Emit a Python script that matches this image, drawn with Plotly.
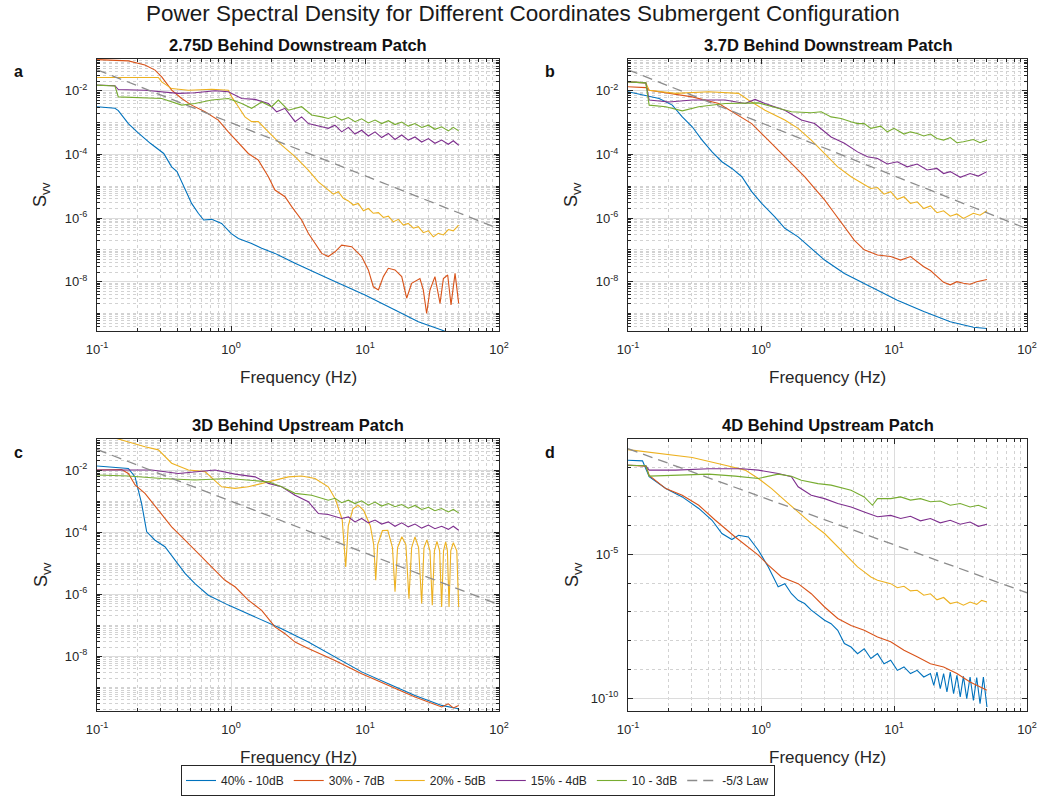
import plotly.graph_objects as go

# Readings: pairs of (log10 frequency [Hz], log10 S_vv)
# ---- panel a : 2.75D Behind Downstream Patch
a_40 = [(-1.0,-2.5),(-0.866,-2.55),(-0.841,-2.62),(-0.801,-2.82),(-0.766,-3.03),(-0.701,-3.29),(-0.602,-3.65),(-0.502,-3.97),(-0.443,-4.39),(-0.403,-4.54),(-0.343,-5.12),(-0.294,-5.54),(-0.244,-5.85),(-0.204,-6.06),(-0.144,-6.04),(-0.070,-6.17),(0.0,-6.48),(0.055,-6.64),(0.154,-6.8),(0.229,-6.95),(0.328,-7.11),(0.478,-7.42),(0.726,-7.9),(1.0,-8.42),(1.224,-8.89),(1.398,-9.26),(1.572,-9.52),(1.699,-9.73)]
a_30 = [(-1.0,-1.02),(-0.766,-1.06),(-0.642,-1.19),(-0.567,-1.35),(-0.517,-1.56),(-0.443,-1.98),(-0.368,-2.24),(-0.294,-2.45),(-0.194,-2.66),(-0.095,-2.92),(-0.020,-3.29),(0.055,-3.65),(0.129,-3.97),(0.204,-4.18),(0.279,-4.7),(0.328,-5.12),(0.403,-5.33),(0.453,-5.64),(0.527,-6.06),(0.577,-6.48),(0.627,-6.8),(0.677,-7.11),(0.726,-7.21),(0.776,-7.06),(0.826,-6.85),(0.900,-6.9),(0.975,-7.21),(1.025,-7.63),(1.062,-8.16),(1.100,-8.26),(1.137,-7.84),(1.174,-7.58),(1.224,-7.63),(1.274,-7.84),(1.311,-8.52),(1.348,-8.05),(1.410,-7.9),(1.435,-8.26),(1.460,-9.0),(1.485,-8.26),(1.522,-7.84),(1.560,-8.68),(1.585,-7.9),(1.617,-7.79),(1.642,-8.73),(1.672,-7.74),(1.699,-8.68)]
a_20 = [(-1.0,-1.58),(-0.542,-1.58),(-0.517,-1.72),(-0.443,-1.93),(-0.318,-1.98),(-0.144,-1.95),(-0.020,-1.98),(0.005,-2.19),(0.055,-2.5),(0.104,-2.82),(0.154,-2.97),(0.204,-2.97),(0.279,-3.29),(0.378,-3.71),(0.478,-4.07),(0.577,-4.49),(0.652,-4.86),(0.726,-5.12),(0.764,-5.25),(0.801,-5.17),(0.838,-5.38),(0.876,-5.46),(0.913,-5.59),(0.950,-5.54),(0.988,-5.77),(1.025,-5.7),(1.062,-5.85),(1.100,-5.83),(1.137,-5.98),(1.174,-5.94),(1.211,-6.12),(1.249,-6.04),(1.286,-6.22),(1.323,-6.17),(1.361,-6.32),(1.398,-6.27),(1.435,-6.46),(1.473,-6.4),(1.510,-6.59),(1.547,-6.48),(1.585,-6.53),(1.622,-6.36),(1.659,-6.4),(1.699,-6.22)]
a_15 = [(-1.0,-1.82),(-0.866,-1.84),(-0.841,-1.96),(-0.642,-1.98),(-0.393,-2.08),(-0.269,-2.06),(-0.119,-2.0),(-0.020,-2.03),(0.080,-2.24),(0.179,-2.27),(0.279,-2.4),(0.341,-2.66),(0.403,-2.55),(0.478,-2.97),(0.527,-2.82),(0.577,-3.03),(0.677,-3.13),(0.726,-3.18),(0.776,-3.08),(0.826,-3.29),(0.876,-3.15),(0.925,-3.36),(0.975,-3.24),(1.025,-3.42),(1.075,-3.29),(1.124,-3.47),(1.174,-3.34),(1.224,-3.53),(1.274,-3.39),(1.323,-3.55),(1.373,-3.45),(1.423,-3.61),(1.473,-3.5),(1.522,-3.65),(1.572,-3.55),(1.622,-3.68),(1.659,-3.57),(1.699,-3.71)]
a_10 = [(-1.0,-1.82),(-0.866,-1.85),(-0.841,-2.19),(-0.517,-2.24),(-0.368,-2.45),(-0.269,-2.4),(-0.144,-2.29),(-0.020,-2.24),(0.080,-2.4),(0.154,-2.55),(0.229,-2.35),(0.303,-2.5),(0.353,-2.29),(0.428,-2.61),(0.527,-2.5),(0.602,-2.76),(0.677,-2.82),(0.726,-2.87),(0.776,-2.8),(0.826,-2.92),(0.876,-2.84),(0.925,-2.97),(0.975,-2.88),(1.025,-3.01),(1.075,-2.92),(1.124,-3.03),(1.174,-2.94),(1.224,-3.06),(1.274,-2.98),(1.323,-3.11),(1.373,-3.03),(1.423,-3.15),(1.473,-3.08),(1.522,-3.21),(1.572,-3.13),(1.622,-3.26),(1.659,-3.15),(1.699,-3.26)]

# ---- panel b : 3.7D Behind Downstream Patch
b_40 = [(-1.0,-2.03),(-0.866,-2.14),(-0.766,-2.24),(-0.667,-2.45),(-0.592,-2.82),(-0.517,-3.13),(-0.443,-3.55),(-0.368,-3.92),(-0.294,-4.23),(-0.219,-4.44),(-0.144,-4.7),(-0.070,-5.17),(0.005,-5.54),(0.104,-5.96),(0.179,-6.32),(0.279,-6.59),(0.378,-6.95),(0.478,-7.32),(0.627,-7.74),(0.726,-7.95),(0.876,-8.26),(1.025,-8.58),(1.224,-8.94),(1.423,-9.26),(1.597,-9.43),(1.699,-9.47)]
b_30 = [(-1.0,-1.87),(-0.866,-1.9),(-0.841,-1.98),(-0.692,-2.08),(-0.517,-2.19),(-0.318,-2.4),(-0.194,-2.71),(-0.070,-3.03),(0.030,-3.45),(0.129,-3.86),(0.229,-4.28),(0.328,-4.7),(0.403,-5.07),(0.478,-5.43),(0.552,-5.85),(0.627,-6.27),(0.701,-6.69),(0.776,-7.0),(0.876,-7.16),(0.975,-7.21),(1.050,-7.32),(1.124,-7.21),(1.224,-7.53),(1.274,-7.65),(1.323,-7.84),(1.373,-8.02),(1.423,-8.1),(1.473,-8.0),(1.522,-8.05),(1.572,-8.08),(1.622,-8.0),(1.699,-7.93)]
b_20 = [(-1.0,-1.72),(-0.866,-1.75),(-0.841,-1.98),(-0.642,-2.08),(-0.393,-2.03),(-0.169,-2.08),(-0.095,-2.29),(0.030,-2.61),(0.179,-2.92),(0.279,-3.18),(0.378,-3.55),(0.478,-3.97),(0.577,-4.39),(0.677,-4.7),(0.776,-4.96),(0.826,-5.07),(0.876,-5.04),(0.925,-5.25),(0.975,-5.17),(1.025,-5.41),(1.075,-5.33),(1.124,-5.54),(1.174,-5.49),(1.224,-5.7),(1.274,-5.62),(1.323,-5.83),(1.373,-5.77),(1.423,-5.94),(1.473,-5.87),(1.522,-6.01),(1.597,-5.85),(1.647,-5.91),(1.699,-5.77)]
b_15 = [(-1.0,-1.72),(-0.866,-1.75),(-0.841,-2.29),(-0.692,-2.35),(-0.517,-2.29),(-0.269,-2.29),(-0.119,-2.4),(-0.045,-2.27),(0.030,-2.4),(0.179,-2.61),(0.303,-2.92),(0.403,-3.03),(0.527,-3.45),(0.627,-3.65),(0.726,-3.92),(0.801,-4.07),(0.876,-4.13),(0.950,-4.3),(1.025,-4.23),(1.100,-4.39),(1.174,-4.3),(1.249,-4.49),(1.323,-4.44),(1.373,-4.6),(1.423,-4.54),(1.498,-4.72),(1.572,-4.6),(1.634,-4.68),(1.699,-4.54)]
b_10 = [(-1.0,-1.72),(-0.866,-1.75),(-0.841,-2.45),(-0.716,-2.5),(-0.592,-2.63),(-0.468,-2.5),(-0.269,-2.4),(-0.020,-2.38),(0.129,-2.55),(0.229,-2.66),(0.378,-2.69),(0.453,-2.66),(0.527,-2.82),(0.602,-2.87),(0.677,-2.97),(0.726,-3.03),(0.776,-3.03),(0.826,-3.18),(0.900,-3.11),(0.950,-3.29),(1.0,-3.18),(1.075,-3.36),(1.124,-3.29),(1.174,-3.34),(1.224,-3.42),(1.274,-3.36),(1.323,-3.5),(1.373,-3.55),(1.423,-3.47),(1.473,-3.63),(1.522,-3.6),(1.597,-3.53),(1.647,-3.63),(1.699,-3.55)]

# ---- panel c : 3D Behind Upstream Patch
c_40 = [(-1.0,-1.87),(-0.866,-1.91),(-0.766,-1.95),(-0.716,-2.22),(-0.667,-3.08),(-0.629,-3.99),(-0.567,-4.26),(-0.493,-4.47),(-0.418,-4.9),(-0.343,-5.33),(-0.269,-5.66),(-0.169,-6.03),(-0.020,-6.35),(0.179,-6.73),(0.378,-7.11),(0.577,-7.54),(0.776,-8.02),(0.975,-8.5),(1.174,-8.88),(1.373,-9.26),(1.572,-9.58),(1.699,-9.69)]
c_30 = [(-1.0,-2.0),(-0.816,-1.98),(-0.766,-2.11),(-0.716,-2.48),(-0.642,-2.75),(-0.542,-3.29),(-0.443,-3.83),(-0.343,-4.26),(-0.244,-4.69),(-0.144,-5.12),(-0.045,-5.55),(0.030,-5.76),(0.129,-6.19),(0.229,-6.52),(0.328,-7.05),(0.403,-7.27),(0.478,-7.54),(0.577,-7.75),(0.776,-8.13),(0.975,-8.56),(1.174,-8.94),(1.373,-9.31),(1.572,-9.63),(1.622,-9.53),(1.659,-9.66),(1.699,-9.58)]
c_20 = [(-1.0,-0.8),(-0.841,-1.01),(-0.642,-1.25),(-0.542,-1.35),(-0.443,-1.78),(-0.318,-2.0),(-0.194,-2.05),(-0.070,-2.54),(0.030,-2.59),(0.129,-2.54),(0.229,-2.43),(0.328,-2.32),(0.428,-2.22),(0.527,-2.19),(0.627,-2.27),(0.726,-2.54),(0.780,-2.95),(0.830,-3.6),(0.856,-5.12),(0.875,-3.8),(0.910,-3.25),(0.950,-3.13),(0.990,-3.3),(1.040,-3.8),(1.065,-4.4),(1.080,-5.55),(1.095,-4.4),(1.130,-3.95),(1.170,-3.94),(1.205,-4.5),(1.224,-5.92),(1.243,-4.5),(1.275,-4.15),(1.305,-4.4),(1.328,-6.14),(1.348,-4.5),(1.373,-4.15),(1.400,-4.5),(1.423,-6.3),(1.440,-4.5),(1.462,-4.25),(1.485,-4.6),(1.502,-6.35),(1.518,-4.6),(1.537,-4.3),(1.557,-4.6),(1.572,-6.41),(1.586,-4.6),(1.602,-4.31),(1.615,-4.6),(1.627,-6.41),(1.640,-4.6),(1.659,-4.34),(1.685,-4.6),(1.699,-6.41)]
c_15 = [(-1.0,-2.0),(-0.766,-2.0),(-0.592,-2.0),(-0.393,-2.11),(-0.269,-2.05),(-0.119,-2.0),(0.030,-2.13),(0.179,-2.22),(0.279,-2.43),(0.378,-2.54),(0.478,-2.81),(0.577,-3.02),(0.652,-3.4),(0.726,-3.43),(0.826,-3.56),(0.876,-3.51),(0.925,-3.67),(0.975,-3.56),(1.025,-3.7),(1.075,-3.61),(1.124,-3.74),(1.174,-3.67),(1.224,-3.81),(1.274,-3.7),(1.323,-3.83),(1.373,-3.74),(1.423,-3.87),(1.473,-3.77),(1.522,-3.89),(1.572,-3.81),(1.622,-3.91),(1.659,-3.81),(1.699,-3.94)]
c_10 = [(-1.0,-2.16),(-0.766,-2.19),(-0.517,-2.27),(-0.269,-2.32),(-0.020,-2.27),(0.129,-2.32),(0.279,-2.38),(0.378,-2.54),(0.478,-2.75),(0.602,-2.81),(0.726,-2.97),(0.776,-2.91),(0.826,-3.05),(0.876,-2.97),(0.925,-3.08),(0.975,-2.99),(1.025,-3.13),(1.075,-3.03),(1.124,-3.16),(1.174,-3.08),(1.224,-3.18),(1.274,-3.11),(1.323,-3.23),(1.373,-3.14),(1.423,-3.27),(1.473,-3.2),(1.522,-3.31),(1.572,-3.24),(1.622,-3.35),(1.659,-3.27),(1.699,-3.38)]

# ---- panel d : 4D Behind Upstream Patch
d_40 = [(-1.0,-1.74),(-0.891,-1.76),(-0.841,-2.31),(-0.716,-2.72),(-0.592,-3.01),(-0.468,-3.41),(-0.368,-3.82),(-0.294,-4.28),(-0.219,-4.49),(-0.169,-4.34),(-0.095,-4.4),(-0.020,-4.86),(0.055,-5.44),(0.129,-6.13),(0.179,-6.02),(0.229,-6.37),(0.279,-6.6),(0.328,-6.71),(0.378,-6.94),(0.478,-7.29),(0.527,-7.41),(0.577,-7.64),(0.627,-8.1),(0.677,-8.22),(0.726,-8.45),(0.776,-8.28),(0.826,-8.62),(0.876,-8.45),(0.925,-8.8),(0.975,-8.68),(1.025,-9.03),(1.075,-8.91),(1.124,-9.14),(1.174,-9.03),(1.224,-9.26),(1.274,-9.14),(1.299,-9.55),(1.323,-9.09),(1.348,-9.66),(1.373,-9.14),(1.398,-9.78),(1.423,-9.09),(1.448,-9.84),(1.473,-9.2),(1.498,-9.95),(1.522,-9.24),(1.547,-10.01),(1.572,-9.26),(1.597,-10.07),(1.622,-9.28),(1.647,-10.19),(1.672,-9.26),(1.699,-10.3)]
d_30 = [(-1.0,-1.91),(-0.866,-1.94),(-0.841,-2.26),(-0.716,-2.72),(-0.592,-2.95),(-0.468,-3.3),(-0.343,-3.82),(-0.194,-4.4),(-0.020,-5.03),(0.055,-5.38),(0.154,-5.79),(0.279,-6.02),(0.378,-6.37),(0.478,-6.83),(0.577,-7.23),(0.677,-7.47),(0.776,-7.64),(0.876,-7.87),(0.975,-8.04),(1.075,-8.33),(1.174,-8.56),(1.274,-8.8),(1.373,-8.91),(1.473,-9.14),(1.572,-9.43),(1.647,-9.61),(1.699,-9.72)]
d_20 = [(-1.0,-1.37),(-0.766,-1.5),(-0.517,-1.64),(-0.269,-1.91),(-0.119,-2.08),(-0.020,-2.37),(0.080,-2.72),(0.179,-3.13),(0.279,-3.53),(0.378,-3.93),(0.478,-4.28),(0.577,-4.75),(0.677,-5.21),(0.726,-5.44),(0.776,-5.61),(0.826,-5.79),(0.876,-5.9),(0.925,-5.97),(0.975,-6.02),(1.025,-6.16),(1.075,-6.11),(1.124,-6.27),(1.174,-6.25),(1.224,-6.42),(1.274,-6.37),(1.323,-6.58),(1.373,-6.5),(1.423,-6.71),(1.473,-6.66),(1.522,-6.77),(1.572,-6.66),(1.622,-6.74),(1.659,-6.6),(1.699,-6.66)]
d_15 = [(-1.0,-1.91),(-0.866,-1.93),(-0.841,-2.08),(-0.642,-2.08),(-0.393,-2.03),(-0.144,-2.03),(-0.020,-2.08),(0.129,-2.2),(0.229,-2.31),(0.279,-2.66),(0.378,-2.95),(0.478,-3.07),(0.577,-3.24),(0.677,-3.36),(0.776,-3.53),(0.876,-3.7),(0.975,-3.65),(1.050,-3.76),(1.124,-3.68),(1.199,-3.84),(1.274,-3.76),(1.348,-3.91),(1.423,-3.82),(1.498,-3.96),(1.572,-3.88),(1.634,-4.03),(1.699,-3.96)]
d_10 = [(-1.0,-1.91),(-0.866,-1.93),(-0.841,-2.29),(-0.642,-2.26),(-0.393,-2.22),(-0.194,-2.29),(-0.020,-2.37),(0.129,-2.22),(0.229,-2.29),(0.303,-2.43),(0.428,-2.55),(0.527,-2.6),(0.677,-2.78),(0.776,-3.01),(0.838,-3.3),(0.876,-3.07),(0.975,-3.07),(1.050,-3.01),(1.124,-3.12),(1.199,-3.07),(1.274,-3.18),(1.348,-3.15),(1.423,-3.3),(1.498,-3.24),(1.572,-3.36),(1.634,-3.3),(1.699,-3.41)]

# -5/3 law reference line (end points, Hz and S_vv)
law_f = [0.1, 100.0]
law_s = [4.6e-2, 4.6e-7]

series_names = ["40% - 10dB", "30% - 7dB", "20% - 5dB", "15% - 4dB", "10 - 3dB"]
series_colors = ["#0072BD", "#D95319", "#EDB120", "#7E2F8E", "#77AC30"]
panel_titles = ["2.75D Behind Downstream Patch", "3.7D Behind Downstream Patch",
                "3D Behind Upstream Patch", "4D Behind Upstream Patch"]
panel_letters = ["a", "b", "c", "d"]
panel_data = [[a_40, a_30, a_20, a_15, a_10], [b_40, b_30, b_20, b_15, b_10],
              [c_40, c_30, c_20, c_15, c_10], [d_40, d_30, d_20, d_15, d_10]]

W, H = 1046, 796
FONT = "Liberation Sans, Arial, Helvetica, sans-serif"
TXT = "#262626"

# pixel boxes of the four plot areas (left, right, top, bottom)
boxes = [(97, 499, 59, 331), (628, 1027, 59, 331), (97, 499, 439, 711), (628, 1027, 439, 711)]
y_ranges = [[-9.55, -1.0], [-9.55, -1.0], [-9.76, -1.0], [-10.44, -1.0]]

fig = go.Figure()
for i, series in enumerate(panel_data):
    xa = "x" if i == 0 else f"x{i+1}"
    ya = "y" if i == 0 else f"y{i+1}"
    for j, pts in enumerate(series):
        fig.add_trace(go.Scatter(
            x=[10 ** p[0] for p in pts], y=[10 ** p[1] for p in pts],
            mode="lines", line=dict(color=series_colors[j], width=1.1),
            name=series_names[j], legendgroup=series_names[j],
            showlegend=(i == 0), xaxis=xa, yaxis=ya, hoverinfo="skip"))
    fig.add_trace(go.Scatter(
        x=law_f, y=law_s, mode="lines",
        line=dict(color="#8c8c8c", width=1.3, dash="10px,6px"),
        name="-5/3 Law", legendgroup="law", showlegend=(i == 0),
        xaxis=xa, yaxis=ya, hoverinfo="skip"))

def sup(e):
    return f"10<sup>{e}</sup>"

x_minor = [k * 10.0 ** e for e in (-1, 0, 1) for k in range(2, 10)]
layout = {}
annotations = []
for i, (l, r, t, b) in enumerate(boxes):
    sfx = "" if i == 0 else str(i + 1)
    xdom = [l / W, r / W]
    ydom = [1 - b / H, 1 - t / H]
    if i < 3:
        ytv = [1e-8, 1e-6, 1e-4, 1e-2]
        ytt = [sup(-8), sup(-6), sup(-4), sup(-2)]
        ymin = [k * 10.0 ** e for e in range(-10, -1) for k in range(1, 10)
                if not (k == 1 and e in (-8, -6, -4, -2))]
    else:
        ytv = [1e-10, 1e-5]
        ytt = [sup(-10), sup(-5)]
        ymin = [10.0 ** e for e in range(-11, 0) if e not in (-10, -5)]
    common = dict(type="log", showline=True, linecolor=TXT, linewidth=1, mirror="ticks",
                  ticks="inside", ticklen=5, tickcolor=TXT, tickwidth=1,
                  showgrid=True, gridcolor="#dcdcdc", gridwidth=1, zeroline=False,
                  tickfont=dict(family=FONT, size=13, color=TXT), ticklabelstandoff=6)
    minor_style = dict(tickmode="array", ticks="inside", ticklen=3, tickcolor=TXT,
                       showgrid=True, gridcolor="#d2d2d2", griddash="dot", gridwidth=1)
    layout["xaxis" + sfx] = dict(common, domain=xdom, range=[-1, 2], anchor="y" + sfx,
                                 tickmode="array", tickvals=[0.1, 1, 10, 100],
                                 ticktext=[sup(-1), sup(0), sup(1), sup(2)],
                                 minor=dict(minor_style, tickvals=x_minor))
    layout["yaxis" + sfx] = dict(common, domain=ydom, range=y_ranges[i], anchor="x" + sfx,
                                 tickmode="array", tickvals=ytv, ticktext=ytt,
                                 minor=dict(minor_style, tickvals=ymin))
    cx = (l + r) / 2 / W
    annotations.append(dict(text=f"<b>{panel_titles[i]}</b>", x=cx, y=1 - (t - 14) / H,
                            xref="paper", yref="paper", showarrow=False, xanchor="center",
                            yanchor="middle", font=dict(family=FONT, size=16.5, color="#111")))
    annotations.append(dict(text=f"<b>{panel_letters[i]}</b>", x=(l - 85) / W, y=1 - (t + 13) / H,
                            xref="paper", yref="paper", showarrow=False, xanchor="left",
                            yanchor="middle", font=dict(family=FONT, size=16, color="#111")))
    annotations.append(dict(text="Frequency (Hz)", x=cx, y=1 - (b + 46) / H,
                            xref="paper", yref="paper", showarrow=False, xanchor="center",
                            yanchor="middle", font=dict(family=FONT, size=17, color=TXT)))
    annotations.append(dict(text="S<sub>vv</sub>", x=(l - 55) / W, y=1 - ((t + b) / 2) / H,
                            xref="paper", yref="paper", showarrow=False, xanchor="center",
                            yanchor="middle", textangle=-90,
                            font=dict(family=FONT, size=18, color=TXT)))

annotations.append(dict(text="Power Spectral Density for Different Coordinates Submergent Configuration",
                        x=0.5, y=1 - 13 / H, xref="paper", yref="paper", showarrow=False,
                        xanchor="center", yanchor="middle",
                        font=dict(family=FONT, size=22.5, color="#1a1a1a")))

fig.update_layout(
    width=W, height=H, autosize=False,
    margin=dict(l=0, r=0, t=0, b=0, autoexpand=False),
    paper_bgcolor="white", plot_bgcolor="white",
    font=dict(family=FONT, color=TXT),
    annotations=annotations,
    showlegend=True,
    legend=dict(orientation="h", x=181 / W, xanchor="left", y=1 - 765 / H, yanchor="top",
                bgcolor="white", bordercolor=TXT, borderwidth=1,
                font=dict(family=FONT, size=12, color=TXT),
                tracegroupgap=0, itemwidth=30),
    **layout,
)

fig.write_html("out.html")
